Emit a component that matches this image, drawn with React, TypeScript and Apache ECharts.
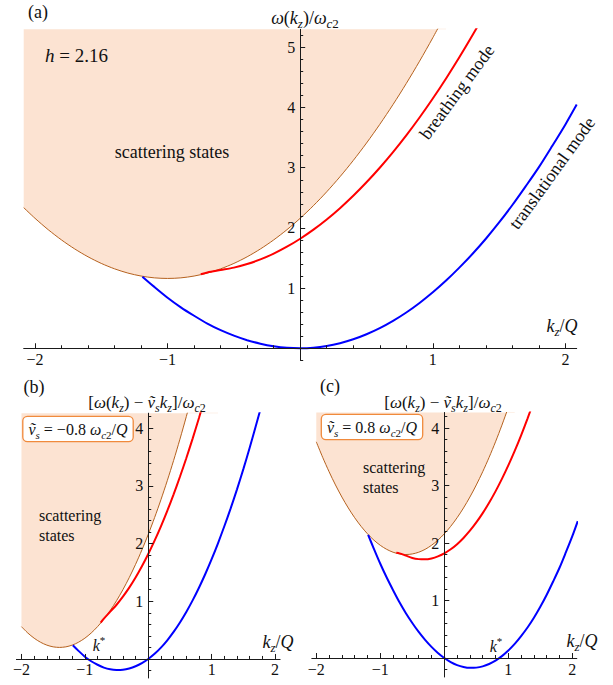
import React, { useEffect, useRef } from "react";
import * as echarts from "echarts";

// ---- data (panel (a): omega(k_z)/omega_c2) ----
const kBound = [-2.085, -2.0, -1.9, -1.8, -1.7, -1.6, -1.5, -1.4, -1.3, -1.2, -1.1, -1.0, -0.9, -0.8, -0.7, -0.6, -0.5, -0.4, -0.3, -0.2, -0.1, 0.0, 0.1, 0.2, 0.3, 0.4, 0.5, 0.6, 0.7, 0.8, 0.9, 1.0, 1.1];
const wBound = [2.337, 2.16, 1.97, 1.8, 1.65, 1.52, 1.41, 1.32, 1.25, 1.2, 1.17, 1.16, 1.17, 1.2, 1.25, 1.32, 1.41, 1.52, 1.65, 1.8, 1.97, 2.16, 2.37, 2.6, 2.85, 3.12, 3.41, 3.72, 4.05, 4.4, 4.77, 5.16, 5.57];

const kBlue = [-1.19, -1.1, -1.0, -0.9, -0.8, -0.7, -0.6, -0.5, -0.4, -0.3, -0.2, -0.1, 0.0, 0.1, 0.2, 0.3, 0.4, 0.5, 0.6, 0.7, 0.8, 0.9, 1.0, 1.1, 1.2, 1.3, 1.4, 1.5, 1.6, 1.7, 1.8, 1.9, 2.0, 2.085];
const wBlue = [1.19, 1.02, 0.84, 0.68, 0.54, 0.41, 0.3, 0.21, 0.134, 0.076, 0.034, 0.008, 0.0, 0.009, 0.037, 0.084, 0.149, 0.233, 0.335, 0.456, 0.595, 0.753, 0.93, 1.125, 1.34, 1.57, 1.82, 2.09, 2.38, 2.69, 3.01, 3.36, 3.72, 4.05];

const kRed = [-0.75, -0.7, -0.6, -0.5, -0.4, -0.3, -0.2, -0.1, 0.0, 0.1, 0.2, 0.3, 0.4, 0.5, 0.6, 0.7, 0.8, 0.9, 1.0, 1.1, 1.2, 1.3, 1.4];
const wRed = [1.23, 1.26, 1.3, 1.34, 1.4, 1.476, 1.572, 1.687, 1.82, 1.971, 2.14, 2.328, 2.534, 2.758, 3.0, 3.26, 3.538, 3.835, 4.15, 4.483, 4.834, 5.204, 5.59];

// superfluid velocity of each panel (panel (a) shows omega itself)
const vsPanels = [0, -0.8, 0.8];

// tick labels
const xTickLabels = [-2, -1, 1, 2];
const yTickLabelsA = [1, 2, 3, 4, 5];
const yTickLabelsBC = [1, 2, 3, 4];

const SERIF = "Liberation Serif";
const TXT = "#111";
const AX = "#1a1a1a";
const FILL = "#FCE3D2";
const BROWN = "#B5611E";
const ORANGE = "#F08A3C";

const layouts = [
  { left: 23.7, top: 29.3, width: 553, height: 331, xMin: -2.085, xMax: 2.085, yMin: -0.2, yMax: 5.3, yLabels: yTickLabelsA, kMin: -2.085 },
  { left: 16.4, top: 413.2, width: 263.7, height: 264.8, xMin: -2.08, xMax: 2.08, yMin: -0.33, yMax: 4.26, yLabels: yTickLabelsBC, kMin: -2.0 },
  { left: 311.8, top: 412.5, width: 265, height: 264.5, xMin: -2.07, xMax: 2.07, yMin: -0.33, yMax: 4.27, yLabels: yTickLabelsBC, kMin: -2.0 },
];

function tickValues(lo: number, hi: number, step: number, skipInt: boolean) {
  const out: number[] = [];
  const start = Math.ceil(lo / step - 1e-9);
  const end = Math.floor(hi / step + 1e-9);
  for (let i = start; i <= end; i++) {
    const v = Math.round(i * step * 1000) / 1000;
    if (v === 0) continue;
    if (skipInt && Math.abs(v - Math.round(v)) < 1e-6) continue;
    out.push(v);
  }
  return out;
}

function shifted(ks: number[], ws: number[], vs: number, kMin: number) {
  return ks
    .map((k, i) => [k, Math.round((ws[i] - vs * k) * 10000) / 10000])
    .filter((p) => p[0] >= kMin - 1e-9);
}

const fmt = (v: number) => (v < 0 ? "\u2212" + Math.abs(v) : String(v));

function rich(size: number) {
  const sub = Math.round(size * 0.7);
  return {
    r: { fontFamily: SERIF, fontSize: size, lineHeight: size + 6, fill: TXT },
    i: { fontFamily: SERIF, fontStyle: "italic", fontSize: size, lineHeight: size + 6, fill: TXT },
    s: { fontFamily: SERIF, fontStyle: "italic", fontSize: sub, lineHeight: sub + 2, verticalAlign: "bottom", fill: TXT },
    s2: { fontFamily: SERIF, fontSize: sub, lineHeight: sub + 2, verticalAlign: "bottom", fill: TXT },
    p: { fontFamily: SERIF, fontSize: sub, lineHeight: sub + 2, verticalAlign: "top", fill: TXT },
  };
}

function label(text: string, x: number, y: number, size: number, extra: any = {}, align = "center") {
  return {
    type: "text",
    x,
    y,
    rotation: extra.rotation || 0,
    z: 100,
    style: {
      text,
      rich: rich(size),
      fontFamily: SERIF,
      fontSize: size,
      fill: TXT,
      align,
      verticalAlign: "middle",
      ...(extra.style || {}),
    },
  };
}

const omegaName = "{i|ω}{r|(}{i|k}{s|z}{r|)/}{i|ω}{s|c}{s2|2}";
const shiftName = "{r|[}{i|ω}{r|(}{i|k}{s|z}{r|) − }{i|ṽ}{s|s}{i|k}{s|z}{r|]/}{i|ω}{s|c}{s2|2}";
const kzQ = "{i|k}{s|z}{r|/}{i|Q}";
const boxStyle = { backgroundColor: "#fff", borderColor: ORANGE, borderWidth: 1.3, borderRadius: 4, padding: [1, 5, 1, 5] };

export default function App() {
  const ref = useRef<HTMLDivElement>(null);
  useEffect(() => {
    document.body.style.margin = "0";
    if (!ref.current) return;
    const chart = echarts.init(ref.current, undefined, { renderer: "svg" });

    const grid: any[] = [];
    const xAxis: any[] = [];
    const yAxis: any[] = [];
    const series: any[] = [];
    const tickStyle = { color: AX, width: 1 };
    const labelStyle = { fontFamily: SERIF, fontSize: 16, color: TXT };

    layouts.forEach((L, gi) => {
      const vs = vsPanels[gi];
      // axes pass through the origin: offset (pixels) from the grid edge
      const xOff = -((0 - L.yMin) / (L.yMax - L.yMin)) * L.height;
      const yOff = -((0 - L.xMin) / (L.xMax - L.xMin)) * L.width;
      grid.push({ left: L.left, top: L.top, width: L.width, height: L.height, outerBoundsMode: "none", containLabel: false });
      // minor-tick axis carrying the line
      xAxis.push({
        type: "value", gridIndex: gi, min: L.xMin, max: L.xMax, position: "bottom", offset: xOff, z: 10,
        axisLine: { onZero: false, lineStyle: { color: AX, width: 1 } },
        axisTick: { inside: true, length: 3, customValues: tickValues(L.xMin, L.xMax, 0.2, true), lineStyle: tickStyle },
        axisLabel: { show: false },
        splitLine: { show: false },
      });
      // major-tick axis with labels
      xAxis.push({
        type: "value", gridIndex: gi, min: L.xMin, max: L.xMax, position: "bottom", offset: xOff, z: 10,
        axisLine: { show: false, onZero: false },
        axisTick: { inside: true, length: 5, customValues: tickValues(L.xMin, L.xMax, 1, false), lineStyle: tickStyle },
        axisLabel: { customValues: xTickLabels, formatter: fmt, margin: 3, ...labelStyle },
        splitLine: { show: false },
      });
      yAxis.push({
        type: "value", gridIndex: gi, min: L.yMin, max: L.yMax, position: "left", offset: yOff, z: 10,
        axisLine: { onZero: false, lineStyle: { color: AX, width: 1 } },
        axisTick: { inside: true, length: 3, customValues: tickValues(L.yMin, L.yMax, 0.2, true), lineStyle: tickStyle },
        axisLabel: { show: false },
        splitLine: { show: false },
      });
      yAxis.push({
        type: "value", gridIndex: gi, min: L.yMin, max: L.yMax, position: "left", offset: yOff, z: 10,
        axisLine: { show: false, onZero: false },
        axisTick: { inside: true, length: 5, customValues: L.yLabels, lineStyle: tickStyle },
        axisLabel: { customValues: L.yLabels, formatter: fmt, margin: 5, ...labelStyle },
        splitLine: { show: false },
      });
      const ax = 2 * gi;
      series.push({
        type: "line", xAxisIndex: ax, yAxisIndex: ax,
        data: shifted(kBound, wBound, vs, L.kMin),
        showSymbol: false, symbol: "none", smooth: 0.3, clip: true,
        lineStyle: { color: BROWN, width: 1 },
        areaStyle: { color: FILL, origin: "end", opacity: 1 },
        z: 2,
      });
      series.push({
        type: "line", xAxisIndex: ax, yAxisIndex: ax,
        data: shifted(kBlue, wBlue, vs, -10),
        showSymbol: false, symbol: "none", smooth: 0.3, clip: true,
        lineStyle: { color: "#0000FF", width: 2 },
        z: 4,
      });
      series.push({
        type: "line", xAxisIndex: ax, yAxisIndex: ax,
        data: shifted(kRed, wRed, vs, -10),
        showSymbol: false, symbol: "none", smooth: 0.3, clip: true,
        lineStyle: { color: "#FF0000", width: 2 },
        z: 4,
      });
    });

    const graphic: any[] = [
      // panel (a)
      label("{r|(a)}", 38, 12, 18),
      label(omegaName, 305, 18, 18),
      label("{i|h}{r| = 2.16}", 45, 55, 19, {}, "left"),
      label("{r|scattering states}", 172, 152, 18),
      label("{r|breathing mode}", 457, 92, 18, { rotation: 0.934 }),
      label("{r|translational mode}", 552, 173, 18, { rotation: 0.946 }),
      label(kzQ, 562, 326, 18),
      // panel (b)
      label("{r|(b)}", 34, 387, 18),
      label(shiftName, 147, 402, 17),
      label("{i|ṽ}{s|s}{r| = −0.8 }{i|ω}{s|c}{s2|2}{r|/}{i|Q}", 78, 429, 16, { style: boxStyle }),
      label("{r|scattering}", 39, 515, 16, {}, "left"),
      label("{r|states}", 39, 535, 16, {}, "left"),
      label("{i|k}{p|*}", 99, 645, 16),
      label(kzQ, 278, 642, 18),
      // panel (c)
      label("{r|(c)}", 330, 386, 18),
      label(shiftName, 443, 402, 17),
      label("{i|ṽ}{s|s}{r| = 0.8 }{i|ω}{s|c}{s2|2}{r|/}{i|Q}", 372, 427, 16, { style: boxStyle }),
      label("{r|scattering}", 363, 467, 16, {}, "left"),
      label("{r|states}", 363, 487, 16, {}, "left"),
      label("{i|k}{p|*}", 496, 646, 16),
      label(kzQ, 582, 641, 18),
    ];

    chart.setOption({ animation: false, backgroundColor: "#fff", grid, xAxis, yAxis, series, graphic });
    return () => chart.dispose();
  }, []);
  return <div ref={ref} style={{ width: 613, height: 685 }} />;
}
